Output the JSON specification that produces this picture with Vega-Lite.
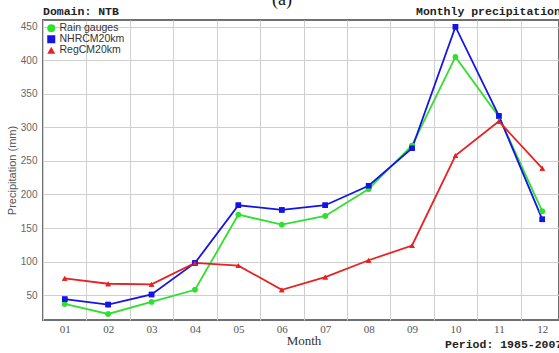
{
  "$schema": "https://vega.github.io/schema/vega-lite/v6.json",
  "width": 516,
  "height": 300,
  "autosize": {"type": "none"},
  "padding": {"left": 43, "top": 20, "right": 0, "bottom": 33},
  "background": "white",
  "config": {
    "view": {"stroke": "#707070", "strokeWidth": 2},
    "axis": {
      "grid": true,
      "gridColor": "#cfcfcf",
      "gridWidth": 1,
      "ticks": false,
      "domain": false
    },
    "legend": {
      "orient": "none",
      "legendX": 3,
      "legendY": 3,
      "padding": 0,
      "rowPadding": 0,
      "symbolSize": 64,
      "symbolStrokeWidth": 0,
      "labelFont": "Liberation Sans",
      "labelFontSize": 10.5,
      "labelColor": "#333333",
      "labelOffset": 3
    }
  },
  "data": {
    "values": [
      {"month": "01", "series": "Rain gauges", "value": 37},
      {"month": "02", "series": "Rain gauges", "value": 22},
      {"month": "03", "series": "Rain gauges", "value": 40},
      {"month": "04", "series": "Rain gauges", "value": 58},
      {"month": "05", "series": "Rain gauges", "value": 170},
      {"month": "06", "series": "Rain gauges", "value": 155},
      {"month": "07", "series": "Rain gauges", "value": 168},
      {"month": "08", "series": "Rain gauges", "value": 208},
      {"month": "09", "series": "Rain gauges", "value": 273},
      {"month": "10", "series": "Rain gauges", "value": 405},
      {"month": "11", "series": "Rain gauges", "value": 316},
      {"month": "12", "series": "Rain gauges", "value": 175},
      {"month": "01", "series": "NHRCM20km", "value": 44},
      {"month": "02", "series": "NHRCM20km", "value": 36},
      {"month": "03", "series": "NHRCM20km", "value": 51},
      {"month": "04", "series": "NHRCM20km", "value": 98},
      {"month": "05", "series": "NHRCM20km", "value": 184},
      {"month": "06", "series": "NHRCM20km", "value": 177},
      {"month": "07", "series": "NHRCM20km", "value": 184},
      {"month": "08", "series": "NHRCM20km", "value": 213},
      {"month": "09", "series": "NHRCM20km", "value": 269},
      {"month": "10", "series": "NHRCM20km", "value": 450},
      {"month": "11", "series": "NHRCM20km", "value": 317},
      {"month": "12", "series": "NHRCM20km", "value": 163},
      {"month": "01", "series": "RegCM20km", "value": 75},
      {"month": "02", "series": "RegCM20km", "value": 67},
      {"month": "03", "series": "RegCM20km", "value": 66},
      {"month": "04", "series": "RegCM20km", "value": 98},
      {"month": "05", "series": "RegCM20km", "value": 94},
      {"month": "06", "series": "RegCM20km", "value": 58},
      {"month": "07", "series": "RegCM20km", "value": 77},
      {"month": "08", "series": "RegCM20km", "value": 102},
      {"month": "09", "series": "RegCM20km", "value": 124},
      {"month": "10", "series": "RegCM20km", "value": 258},
      {"month": "11", "series": "RegCM20km", "value": 309},
      {"month": "12", "series": "RegCM20km", "value": 239}
    ]
  },
  "encoding": {
    "x": {
      "field": "month",
      "type": "ordinal",
      "scale": {"type": "band", "paddingInner": 0, "paddingOuter": 0, "range": [0, 521]},
      "axis": {
        "tickBand": "extent",
        "labelAngle": 0,
        "labelFont": "Liberation Serif",
        "labelFontSize": 11,
        "labelColor": "#555555",
        "labelPadding": 3,
        "title": "Month",
        "titleFont": "Liberation Serif",
        "titleFontSize": 13,
        "titleFontWeight": "normal",
        "titleColor": "#333333",
        "titlePadding": 0
      }
    },
    "y": {
      "field": "value",
      "type": "quantitative",
      "scale": {"domain": [13, 460], "nice": false, "zero": false},
      "axis": {
        "values": [50, 100, 150, 200, 250, 300, 350, 400, 450],
        "labelFont": "Liberation Sans",
        "labelFontSize": 10,
        "labelColor": "#666666",
        "labelPadding": 6,
        "title": "Precipitation (mm)",
        "titleFont": "Liberation Sans",
        "titleFontSize": 11,
        "titleFontWeight": "normal",
        "titleColor": "#555555",
        "titlePadding": 3
      }
    }
  },
  "layer": [
    {
      "mark": {"type": "line", "strokeWidth": 1.8},
      "encoding": {
        "color": {
          "field": "series",
          "type": "nominal",
          "scale": {
            "domain": ["Rain gauges", "NHRCM20km", "RegCM20km"],
            "range": ["#2fe02f", "#1414e6", "#e62222"]
          },
          "legend": {"title": null}
        },
        "shape": {
          "field": "series",
          "type": "nominal",
          "scale": {
            "domain": ["Rain gauges", "NHRCM20km", "RegCM20km"],
            "range": ["circle", "square", "triangle-up"]
          },
          "legend": {"title": null}
        }
      }
    },
    {
      "mark": {"type": "point", "filled": true, "size": 30, "opacity": 1},
      "encoding": {
        "color": {
          "field": "series",
          "type": "nominal",
          "legend": {"title": null}
        },
        "shape": {
          "field": "series",
          "type": "nominal",
          "legend": {"title": null}
        }
      }
    },
    {
      "data": {"values": [{"label": "Domain: NTB"}]},
      "mark": {"type": "text", "align": "left", "baseline": "middle", "font": "Liberation Mono", "fontSize": 11.5, "fontWeight": "bold", "color": "#222222"},
      "encoding": {"text": {"field": "label"}, "x": {"value": 0}, "y": {"value": -8}}
    },
    {
      "data": {"values": [{"label": "Monthly precipitation"}]},
      "mark": {"type": "text", "align": "left", "baseline": "middle", "font": "Liberation Mono", "fontSize": 11.5, "fontWeight": "bold", "color": "#222222"},
      "encoding": {"text": {"field": "label"}, "x": {"value": 373}, "y": {"value": -8}}
    },
    {
      "data": {"values": [{"label": "Period: 1985-2007"}]},
      "mark": {"type": "text", "align": "left", "baseline": "middle", "font": "Liberation Mono", "fontSize": 11.5, "fontWeight": "bold", "color": "#222222"},
      "encoding": {"text": {"field": "label"}, "x": {"value": 402}, "y": {"value": 325}}
    },
    {
      "data": {"values": [{"label": "(a)"}]},
      "mark": {"type": "text", "align": "center", "baseline": "alphabetic", "font": "Liberation Serif", "fontSize": 18, "color": "#111111"},
      "encoding": {"text": {"field": "label"}, "x": {"value": 239}, "y": {"value": -15}}
    }
  ]
}
